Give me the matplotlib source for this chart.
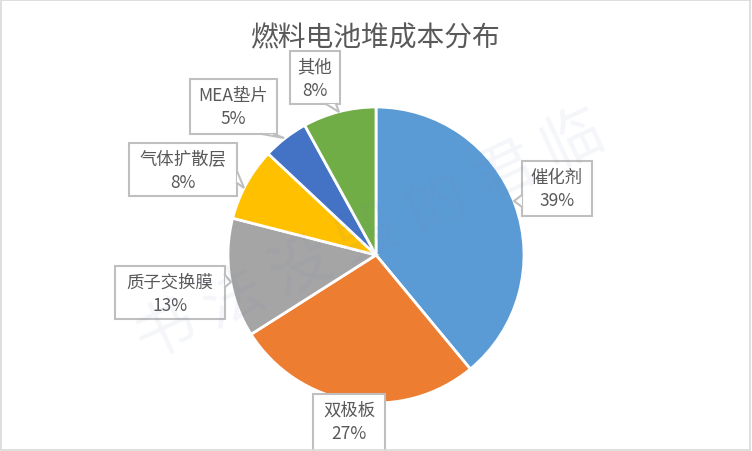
import matplotlib.pyplot as plt
from matplotlib.patches import Rectangle, Polygon

plt.rcParams['font.family'] = ['Noto Sans CJK SC', 'DejaVu Sans']

title = "燃料电池堆成本分布"
labels = ["催化剂", "双极板", "质子交换膜", "气体扩散层", "MEA垫片", "其他"]
shares = [39, 27, 13, 8, 5, 8]
colors = ["#5B9BD5", "#ED7D31", "#A5A5A5", "#FFC000", "#4472C4", "#70AD47"]

# label boxes (x0, y0, x1, y1) in pixels, y from the top
boxes = [(522, 162, 592, 217), (313, 395, 385, 462), (115, 267, 225, 320),
         (129, 144, 237, 197), (190, 80, 277, 135), (290, 52, 340, 105)]
# callout pointers: two base points on the box edge, then the tip
pointers = [((522, 196), (522, 208), (514, 202)),
            None,
            ((225, 276), (225, 288), (231, 283)),
            ((237, 172), (237, 184), (244, 189)),
            ((262, 135), (274, 135), (284, 139)),
            ((326, 105), (336, 105), (339, 113))]

W, H = 752, 452
EDGE = '#BFBFBF'
TXT = '#595959'

fig = plt.figure(figsize=(W / 100, H / 100), dpi=100)
ax = fig.add_axes([0, 0, 1, 1])

ax.pie(shares, colors=colors, startangle=90, counterclock=False,
       center=(376, H - 256), radius=148, frame=True,
       wedgeprops=dict(edgecolor='white', linewidth=2))
ax.set_xlim(0, W)
ax.set_ylim(0, H)
ax.set_aspect('auto')
ax.axis('off')

ax.text(376, H - 38, title, ha='center', va='center', fontsize=20, color=TXT)

for lab, val, (x0, y0, x1, y1), ptr in zip(labels, shares, boxes, pointers):
    ax.add_patch(Rectangle((x0, H - y1), x1 - x0, y1 - y0, fc='white', ec=EDGE,
                           lw=1.5, zorder=5))
    if ptr is not None:
        pts = [(px, H - py) for px, py in ptr]
        ax.add_patch(Polygon(pts, closed=True, fc='white', ec='none', zorder=6))
        ax.plot([pts[0][0], pts[2][0], pts[1][0]], [pts[0][1], pts[2][1], pts[1][1]],
                color=EDGE, lw=1.5, zorder=7, solid_joinstyle='miter')
    ax.text((x0 + x1) / 2, H - (y0 + 27.5), "{}\n{}%".format(lab, val),
            ha='center', va='center', fontsize=12.5, color=TXT, linespacing=1.4,
            zorder=8)

# faint watermark
ax.text(370, 215, "书 法 没 毁 的 君 临", ha='center', va='center', fontsize=44,
        color='#7080B0', alpha=0.07, rotation=25, zorder=10)

fig.patches.append(Rectangle((0.001, 0.003), 0.997, 0.994, transform=fig.transFigure,
                             fill=False, ec='#D9D9D9', lw=1.2))

fig.savefig('out.png', dpi=100)
